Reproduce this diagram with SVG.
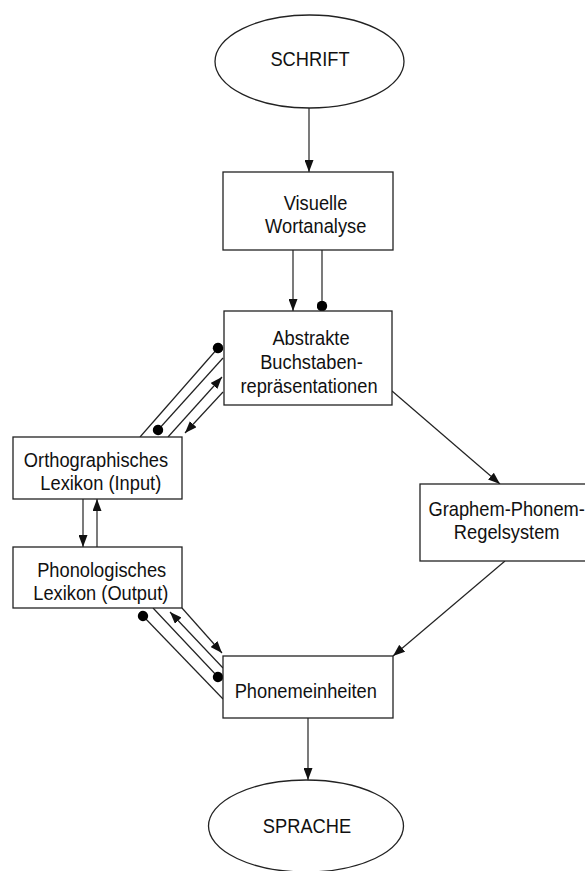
<svg xmlns="http://www.w3.org/2000/svg" width="585" height="871" viewBox="0 0 585 871">
<style>
  .box { fill:#fff; stroke:#222; stroke-width:1.3; }
  .c { stroke:#222; stroke-width:1.2; fill:none; }
  .a { marker-end:url(#ah); }
  .de { marker-end:url(#dot); }
  .ds { marker-start:url(#dot); }
  text { font-family:"Liberation Sans", Arial, sans-serif; font-size:18.3px; fill:#111; text-anchor:middle; }
</style>
<defs>
  <marker id="ah" markerWidth="12" markerHeight="9" refX="12" refY="4.5" orient="auto" markerUnits="userSpaceOnUse">
    <path d="M0,0 L12,4.5 L0,9 z" fill="#111"/>
  </marker>
  <marker id="dot" markerWidth="11" markerHeight="11" refX="5.5" refY="5.5" orient="auto" markerUnits="userSpaceOnUse">
    <circle cx="5.5" cy="5.5" r="5.2" fill="#000"/>
  </marker>
</defs>
<rect width="585" height="871" fill="#fff"/>

<g id="connectors">
  <path class="c a" d="M309,108 L309,172"/>
  <path class="c a" d="M293,250 L293,311"/>
  <path class="c de" d="M322,250 L322,306"/>
  <path class="c a" d="M392,391 L500,484"/>
  <path class="c a" d="M505,561 L393,656"/>
  <path class="c a" d="M83,499 L83,547"/>
  <path class="c a" d="M97,547 L97,499"/>
  <path class="c a" d="M308,718 L308,780"/>
  <!-- Ortho <-> Abstrakte -->
  <path class="c de" d="M140,437 L218,348"/>
  <path class="c ds" d="M158,430 L223,358"/>
  <path class="c a" d="M168,437 L222,377"/>
  <path class="c a" d="M223,392 L185,433"/>
  <!-- Phon <-> Phonemeinheiten -->
  <path class="c ds" d="M143,616 L223,699"/>
  <path class="c de" d="M153,608 L218,677"/>
  <path class="c a" d="M223,668 L170,612"/>
  <path class="c a" d="M182,608 L222,653"/>
</g>

<g id="schrift">
  <ellipse class="box" cx="309.5" cy="61.5" rx="94.5" ry="46.5"/>
  <text transform="translate(310 66) scale(1 1.12)">SCHRIFT</text>
</g>
<g id="visuelle">
  <rect class="box" x="223" y="172" width="170" height="78"/>
  <text transform="translate(315.5 209.5) scale(1 1.12)">Visuelle</text>
  <text transform="translate(315.7 232.5) scale(1 1.12)">Wortanalyse</text>
</g>
<g id="abstrakte">
  <rect class="box" x="224" y="311" width="168" height="94"/>
  <text transform="translate(311 345) scale(1 1.12)">Abstrakte</text>
  <text transform="translate(311.5 369) scale(1 1.12)">Buchstaben-</text>
  <text transform="translate(309 392.5) scale(1 1.12)">repräsentationen</text>
</g>
<g id="ortho">
  <rect class="box" x="13" y="437" width="169" height="62"/>
  <text transform="translate(96 467) scale(1 1.12)">Orthographisches</text>
  <text transform="translate(100.8 489.5) scale(1 1.12)">Lexikon (Input)</text>
</g>
<g id="phon">
  <rect class="box" x="13" y="547" width="169" height="61"/>
  <text transform="translate(101.7 576.5) scale(1 1.12)">Phonologisches</text>
  <text transform="translate(100.8 600) scale(1 1.12)">Lexikon (Output)</text>
</g>
<g id="graphem">
  <rect class="box" x="420" y="484" width="180" height="77"/>
  <text transform="translate(506.7 515.5) scale(1 1.1)">Graphem-Phonem-</text>
  <text transform="translate(506.7 538.5) scale(1 1.1)">Regelsystem</text>
</g>
<g id="phonem">
  <rect class="box" x="223" y="656" width="170" height="62"/>
  <text transform="translate(305.8 698) scale(1 1.12)">Phonemeinheiten</text>
</g>
<g id="sprache">
  <ellipse class="box" cx="306" cy="826" rx="97.5" ry="46"/>
  <text transform="translate(307 833) scale(1 1.12)">SPRACHE</text>
</g>
</svg>
